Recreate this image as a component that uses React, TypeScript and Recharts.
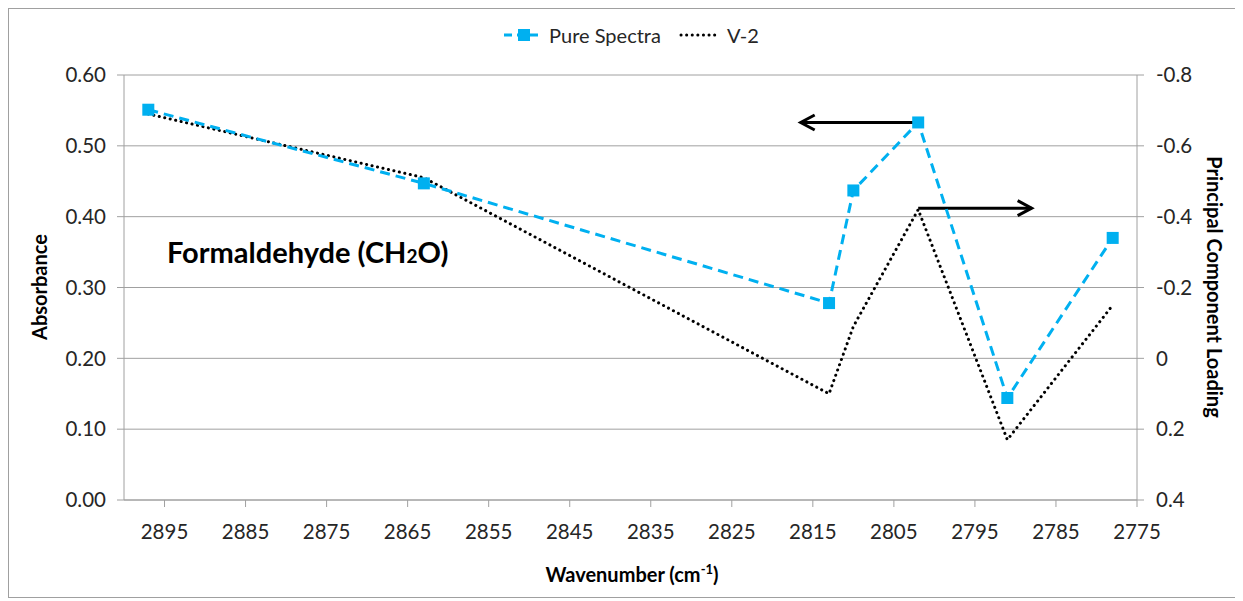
import React from "react";
import {
  CartesianGrid,
  Line,
  LineChart,
  ReferenceLine,
  XAxis,
  YAxis,
} from "recharts";

// wavenumbers (cm-1) shared by both series
const wavenumbers = [2897, 2863, 2813, 2810, 2802, 2791, 2778];
const pureSpectra = [0.551, 0.447, 0.278, 0.437, 0.533, 0.144, 0.37];
const v2Loading = [-0.69, -0.51, 0.1, -0.09, -0.42, 0.23, -0.15];

const xTicks = [2775, 2785, 2795, 2805, 2815, 2825, 2835, 2845, 2855, 2865, 2875, 2885, 2895];
const absTicks = [0, 0.1, 0.2, 0.3, 0.4, 0.5, 0.6];
const loadingTicks = [-0.8, -0.6, -0.4, -0.2, 0, 0.2, 0.4];

const pureData = wavenumbers.map((x, i) => ({ x, y: pureSpectra[i] }));
const v2Data = wavenumbers.map((x, i) => ({ x, y: v2Loading[i] }));

const BLUE = "#00B0F0";
const GRID = "#a0a0a0";
const FONT = "Lato, 'Open Sans', sans-serif";
const tickStyle = { fill: "#262626", fontSize: 20.5, fontFamily: FONT };

const SquareDot = (props: any) => {
  const { cx, cy } = props;
  if (cx == null || cy == null) return null;
  return <rect x={cx - 6} y={cy - 6} width={12} height={12} fill={BLUE} />;
};

// horizontal arrow with an open chevron head at the second point
const Arrow = (props: any) => {
  const { x1, y1, x2, y2 } = props;
  const dir = Math.sign(x2 - x1);
  return (
    <g>
      <line x1={x1} y1={y1} x2={x2} y2={y2} stroke="#000" strokeWidth={3} />
      <polyline
        points={`${x2 - dir * 14},${y2 - 7.5} ${x2},${y2} ${x2 - dir * 14},${y2 + 7.5}`}
        fill="none"
        stroke="#000"
        strokeWidth={3}
        strokeLinejoin="miter"
      />
    </g>
  );
};

const Legend = () => (
  <div
    style={{
      position: "absolute",
      top: 14,
      left: 9,
      width: "100%",
      display: "flex",
      justifyContent: "center",
      alignItems: "center",
      fontFamily: FONT,
      fontSize: 20,
      color: "#262626",
    }}
  >
    <svg width={40} height={20} style={{ marginRight: 6 }}>
      <line x1={1} y1={10} x2={39} y2={10} stroke={BLUE} strokeWidth={3} strokeDasharray="8 5" />
      <rect x={15} y={4} width={12} height={12} fill={BLUE} />
    </svg>
    <span style={{ marginRight: 18 }}>Pure Spectra</span>
    <svg width={40} height={20} style={{ marginRight: 8 }}>
      <line
        x1={2}
        y1={10}
        x2={38}
        y2={10}
        stroke="#000"
        strokeWidth={3}
        strokeDasharray="0.1 5.5"
        strokeLinecap="round"
      />
    </svg>
    <span>V-2</span>
  </div>
);

export default function App() {
  return (
    <div
      style={{
        position: "relative",
        width: 1226,
        height: 588,
        border: `1px solid ${GRID}`,
        background: "#fff",
        overflow: "hidden",
      }}
    >
      <Legend />
      <LineChart
        width={1226}
        height={588}
        margin={{ top: 66, right: 38, bottom: 57, left: 55 }}
      >
        <CartesianGrid yAxisId="left" vertical={false} stroke={GRID} />
        <XAxis
          type="number"
          dataKey="x"
          domain={[2775, 2900]}
          reversed
          ticks={xTicks}
          height={40}
          stroke={GRID}
          tickSize={7}
          tickMargin={17}
          tick={tickStyle}
          allowDataOverflow
        />
        <YAxis
          yAxisId="left"
          domain={[0, 0.6]}
          ticks={absTicks}
          width={60}
          stroke={GRID}
          tickSize={7}
          tickMargin={11}
          tick={tickStyle}
          tickFormatter={(v: number) => v.toFixed(2)}
        />
        <YAxis
          yAxisId="right"
          orientation="right"
          domain={[-0.8, 0.4]}
          reversed
          ticks={loadingTicks}
          width={60}
          stroke={GRID}
          tickSize={7}
          tickMargin={12}
          tick={{ ...tickStyle, textAnchor: "start" }}
          tickFormatter={(v: number) => (v === 0 ? "0" : String(v))}
        />
        <ReferenceLine
          yAxisId="left"
          segment={[
            { x: 2802, y: 0.533 },
            { x: 2816.5, y: 0.533 },
          ]}
          ifOverflow="visible"
          shape={Arrow}
        />
        <ReferenceLine
          yAxisId="right"
          segment={[
            { x: 2802, y: -0.424 },
            { x: 2788, y: -0.424 },
          ]}
          ifOverflow="visible"
          shape={Arrow}
        />
        <Line
          yAxisId="right"
          data={v2Data}
          dataKey="y"
          name="V-2"
          type="linear"
          stroke="#000"
          strokeWidth={3}
          strokeDasharray="0.1 5.5"
          strokeLinecap="round"
          dot={false}
          isAnimationActive={false}
        />
        <Line
          yAxisId="left"
          data={pureData}
          dataKey="y"
          name="Pure Spectra"
          type="linear"
          stroke={BLUE}
          strokeWidth={3}
          strokeDasharray="10 6"
          dot={<SquareDot />}
          isAnimationActive={false}
        />
        <text
          x={158}
          y={254}
          fontFamily={FONT}
          fontSize={29}
          fontWeight="bold"
          fill="#000"
        >
          Formaldehyde (CH
          <tspan fontSize={19}>2</tspan>
          <tspan fontSize={29}>O)</tspan>
        </text>
        <text
          x={33}
          y={278}
          transform="rotate(-90 33 278)"
          textAnchor="middle"
          dominantBaseline="middle"
          fontFamily={FONT}
          fontSize={20}
          fontWeight="bold"
          fill="#000"
        >
          Absorbance
        </text>
        <text
          x={1203}
          y={278}
          transform="rotate(90 1203 278)"
          textAnchor="middle"
          dominantBaseline="middle"
          fontFamily={FONT}
          fontSize={20}
          fontWeight="bold"
          fill="#000"
        >
          Principal Component Loading
        </text>
        <text
          x={623}
          y={573}
          textAnchor="middle"
          fontFamily={FONT}
          fontSize={20}
          fontWeight="bold"
          fill="#000"
        >
          Wavenumber (cm
          <tspan fontSize={13} dy={-8}>
            -1
          </tspan>
          <tspan fontSize={20} dy={8}>
            )
          </tspan>
        </text>
      </LineChart>
    </div>
  );
}
